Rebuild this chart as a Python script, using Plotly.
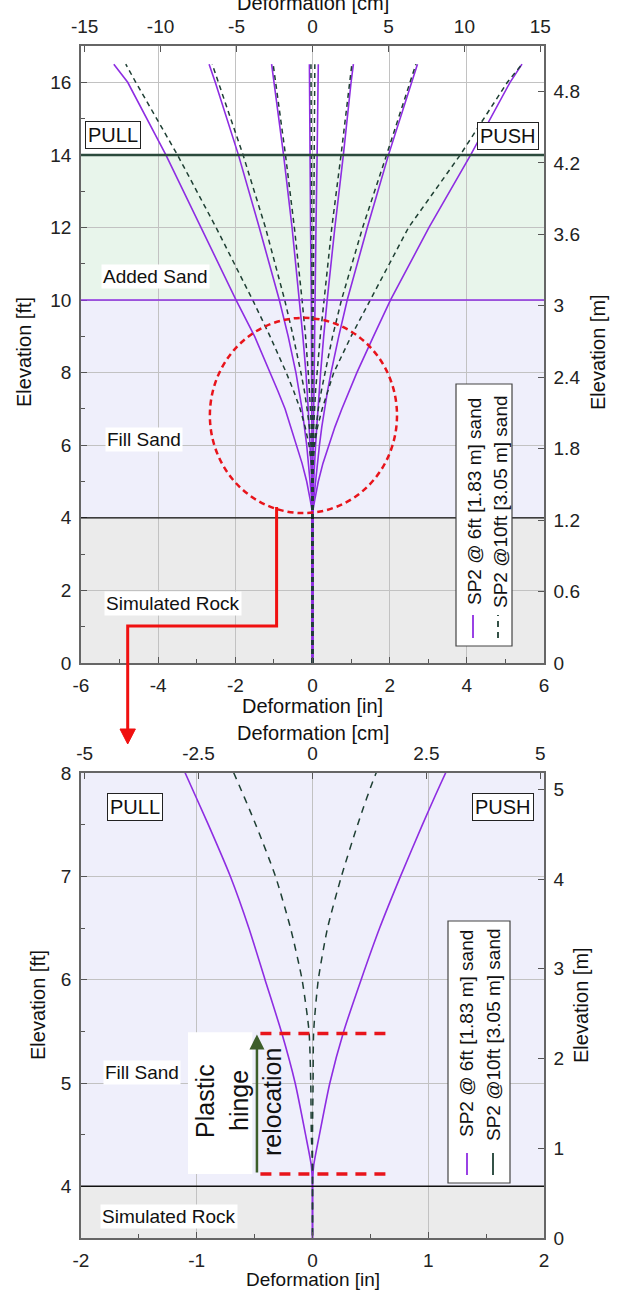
import plotly.graph_objects as go

W, H = 617, 1292

# ---------------- data (deformation in inches vs elevation in ft) ----------------
elev_ft = [0, 4.0, 4.2, 4.5, 5.0, 5.5, 6.0, 6.5, 7.0, 7.5, 8.0, 9.0, 10.0, 12.0, 14.0, 16.0, 16.5]

# SP2 @ 6ft [1.83 m] sand (solid purple), pull (-) and push (+) load steps
sp6_pull4 = [0, 0, -0.01, -0.06, -0.15, -0.27, -0.41, -0.55, -0.71, -0.90, -1.10, -1.50, -1.98, -2.88, -3.80, -4.79, -5.15]
sp6_pull3 = [0, 0, 0, -0.02, -0.06, -0.10, -0.15, -0.21, -0.27, -0.35, -0.43, -0.63, -0.86, -1.38, -1.92, -2.52, -2.68]
sp6_pull2 = [0, 0, 0, -0.01, -0.02, -0.04, -0.06, -0.08, -0.11, -0.14, -0.17, -0.25, -0.34, -0.53, -0.75, -0.99, -1.06]
sp6_pull1 = [0, 0, 0, 0, 0, -0.01, -0.01, -0.015, -0.02, -0.02, -0.02, -0.03, -0.03, -0.05, -0.06, -0.08, -0.08]
sp6_push1 = [0, 0, 0, 0, 0.01, 0.01, 0.02, 0.025, 0.03, 0.035, 0.04, 0.05, 0.07, 0.09, 0.12, 0.14, 0.15]
sp6_push2 = [0, 0, 0, 0.01, 0.03, 0.05, 0.08, 0.11, 0.14, 0.17, 0.21, 0.29, 0.38, 0.58, 0.80, 1.00, 1.06]
sp6_push3 = [0, 0, 0, 0.03, 0.08, 0.12, 0.18, 0.24, 0.31, 0.39, 0.48, 0.68, 0.90, 1.42, 1.97, 2.57, 2.72]
sp6_push4 = [0, 0, 0.01, 0.06, 0.15, 0.27, 0.42, 0.58, 0.76, 0.95, 1.15, 1.58, 2.02, 3.02, 4.10, 5.12, 5.43]

# SP2 @ 10ft [3.05 m] sand (dashed dark green)
sp10_pull4 = [0, 0, 0, -0.01, -0.015, -0.03, -0.09, -0.19, -0.32, -0.49, -0.68, -1.10, -1.55, -2.50, -3.50, -4.58, -4.84]
sp10_pull3 = [0, 0, 0, 0, 0, -0.01, -0.04, -0.08, -0.14, -0.21, -0.30, -0.50, -0.72, -1.22, -1.80, -2.45, -2.60]
sp10_pull2 = [0, 0, 0, 0, 0, 0, -0.015, -0.03, -0.05, -0.08, -0.11, -0.18, -0.27, -0.47, -0.70, -0.96, -1.02]
sp10_pull1 = [0, 0, 0, 0, 0, 0, 0, 0, 0, 0, 0, -0.01, -0.01, -0.02, -0.03, -0.04, -0.04]
sp10_push1 = [0, 0, 0, 0, 0, 0, 0, 0, 0, 0.005, 0.01, 0.01, 0.02, 0.03, 0.05, 0.06, 0.06]
sp10_push2 = [0, 0, 0, 0, 0, 0, 0.015, 0.03, 0.05, 0.08, 0.12, 0.20, 0.30, 0.50, 0.74, 0.97, 1.02]
sp10_push3 = [0, 0, 0, 0, 0, 0.01, 0.04, 0.09, 0.15, 0.23, 0.32, 0.52, 0.75, 1.30, 1.92, 2.52, 2.68]
sp10_push4 = [0, 0, 0, 0, 0.005, 0.01, 0.05, 0.13, 0.25, 0.39, 0.55, 1.00, 1.50, 2.49, 3.83, 5.05, 5.43]

series_6ft = [sp6_pull4, sp6_pull3, sp6_pull2, sp6_pull1, sp6_push1, sp6_push2, sp6_push3, sp6_push4]
series_10ft = [sp10_pull4, sp10_pull3, sp10_pull2, sp10_pull1, sp10_push1, sp10_push2, sp10_push3, sp10_push4]
legend_names = ["SP2 @ 6ft [1.83 m] sand", "SP2 @10ft [3.05 m] sand"]

# soil layers (ft)
layer_names = ["Added Sand", "Fill Sand", "Simulated Rock"]
layer_bottoms = [10, 4, 0]
layer_tops = [14, 10, 4]

# axes ticks
top_in_ticks = [-6, -4, -2, 0, 2, 4, 6]
top_in_text = ["-6", "-4", "-2", "0", "2", "4", "6"]
top_cm_ticks = [-15, -10, -5, 0, 5, 10, 15]
top_cm_text = ["-15", "-10", "-5", "0", "5", "10", "15"]
top_ft_ticks = [0, 2, 4, 6, 8, 10, 12, 14, 16]
top_m_ticks = [0, 0.6, 1.2, 1.8, 2.4, 3.0, 3.6, 4.2, 4.8]
top_m_text = ["0", "0.6", "1.2", "1.8", "2.4", "3", "3.6", "4.2", "4.8"]
bot_in_ticks = [-2, -1, 0, 1, 2]
bot_in_text = ["-2", "-1", "0", "1", "2"]
bot_cm_ticks = [-5, -2.5, 0, 2.5, 5]
bot_cm_text = ["-5", "-2.5", "0", "2.5", "5"]
bot_ft_ticks = [4, 5, 6, 7, 8]
bot_m_ticks = [0, 1, 2, 3, 4, 5]

# plastic hinge zone (ft)
hinge_low, hinge_high = 4.12, 5.48

# ---------------- styling ----------------
PURPLE = "#8E2DE2"
DKGREEN = "#1E3F33"
FONT = "Liberation Sans, Arial, sans-serif"
TICKF = dict(family=FONT, size=19, color="#222")
LAYER_FILL = ["#E8F5EB", "#EFEFFB", "#EBEBEB"]

def fx(p):
    return p / W

def fy(p):
    return 1 - p / H

XD = [fx(81), fx(544)]
TOP_YD = [fy(663), fy(46)]
BOT_YD = [fy(1238), fy(773)]

fig = go.Figure()

for s in series_6ft:
    fig.add_trace(go.Scatter(x=s, y=elev_ft, mode="lines", xaxis="x", yaxis="y",
                             line=dict(color=PURPLE, width=1.6), showlegend=False, hoverinfo="skip"))
for s in series_10ft:
    fig.add_trace(go.Scatter(x=s, y=elev_ft, mode="lines", xaxis="x", yaxis="y",
                             line=dict(color=DKGREEN, width=1.5, dash="5px,4px"), showlegend=False, hoverinfo="skip"))
for s in [sp6_pull4, sp6_push4]:
    fig.add_trace(go.Scatter(x=s, y=elev_ft, mode="lines", xaxis="x3", yaxis="y3",
                             line=dict(color=PURPLE, width=1.6, shape="spline", smoothing=0.6),
                             showlegend=False, hoverinfo="skip"))
for s in [sp10_pull4, sp10_push4]:
    fig.add_trace(go.Scatter(x=s, y=elev_ft, mode="lines", xaxis="x3", yaxis="y3",
                             line=dict(color=DKGREEN, width=1.5, dash="7px,6px", shape="spline", smoothing=0.6),
                             showlegend=False, hoverinfo="skip"))
for xa, ya in [("x2", "y"), ("x", "y2"), ("x4", "y3"), ("x3", "y4")]:
    fig.add_trace(go.Scatter(x=[0], y=[1], mode="markers", xaxis=xa, yaxis=ya,
                             marker=dict(size=1, opacity=0), showlegend=False, hoverinfo="skip"))

common = dict(showline=True, linecolor="#666", linewidth=1.5, ticks="inside", ticklen=6,
              tickcolor="#555", tickfont=TICKF, zeroline=False, automargin=False, ticklabelstandoff=4)
grid = dict(showgrid=True, gridcolor="#C2C2C2", gridwidth=1)
minor_t = dict(ticks="inside", ticklen=4, tickcolor="#555", showgrid=False)

fig.update_layout(
    width=W, height=H, margin=dict(l=0, r=0, t=0, b=0, autoexpand=False),
    paper_bgcolor="white", plot_bgcolor="white", showlegend=False,
    font=dict(family=FONT, color="#222"),
    xaxis=dict(domain=XD, anchor="y", range=[-6, 6], tickvals=top_in_ticks, ticktext=top_in_text,
               minor=dict(dtick=1, **minor_t), **grid, **common),
    xaxis2=dict(overlaying="x", side="top", anchor="y", range=[-15.24, 15.24], tickvals=top_cm_ticks,
                ticktext=top_cm_text, showgrid=False, **common),
    yaxis=dict(domain=TOP_YD, anchor="x", range=[0, 17], tickvals=top_ft_ticks,
               minor=dict(dtick=1, **minor_t), **grid, **common),
    yaxis2=dict(overlaying="y", side="right", anchor="x", range=[0, 5.1816], tickvals=top_m_ticks,
                ticktext=top_m_text, showgrid=False, **common),
    xaxis3=dict(domain=XD, anchor="y3", range=[-2, 2], tickvals=bot_in_ticks, ticktext=bot_in_text,
                minor=dict(dtick=0.5, **minor_t), **grid, **common),
    xaxis4=dict(overlaying="x3", side="top", anchor="y3", range=[-5.08, 5.08], tickvals=bot_cm_ticks,
                ticktext=bot_cm_text, showgrid=False, **common),
    yaxis3=dict(domain=BOT_YD, anchor="x3", range=[3.5, 8], tickvals=bot_ft_ticks,
                minor=dict(dtick=0.5, **minor_t), **grid, **common),
    yaxis4=dict(overlaying="y3", side="right", anchor="x3", range=[0, 5.1816], tickvals=bot_m_ticks,
                showgrid=False, **common),
)

shapes = []
for b, t, c in zip(layer_bottoms, layer_tops, LAYER_FILL):
    shapes.append(dict(type="rect", xref="x", yref="y", x0=-6, x1=6, y0=b, y1=t,
                       fillcolor=c, line=dict(width=0), layer="below"))
shapes.append(dict(type="rect", xref="x3", yref="y3", x0=-2, x1=2, y0=4, y1=8,
                   fillcolor=LAYER_FILL[1], line=dict(width=0), layer="below"))
shapes.append(dict(type="rect", xref="x3", yref="y3", x0=-2, x1=2, y0=3.5, y1=4,
                   fillcolor=LAYER_FILL[2], line=dict(width=0), layer="below"))
shapes.append(dict(type="line", xref="x", yref="y", x0=-6, x1=6, y0=layer_tops[0], y1=layer_tops[0],
                   line=dict(color="#2B4A3C", width=2.5)))
shapes.append(dict(type="line", xref="x", yref="y", x0=-6, x1=6, y0=layer_tops[1], y1=layer_tops[1],
                   line=dict(color=PURPLE, width=1.6)))
shapes.append(dict(type="line", xref="x", yref="y", x0=-6, x1=6, y0=layer_tops[2], y1=layer_tops[2],
                   line=dict(color="#111", width=1.2)))
shapes.append(dict(type="line", xref="x3", yref="y3", x0=-2, x1=2, y0=4, y1=4,
                   line=dict(color="#111", width=1.5)))
shapes.append(dict(type="circle", xref="x", yref="y", x0=-2.66, x1=2.19, y0=4.13, y1=9.51,
                   line=dict(color="#E8141B", width=2.5, dash="6px,4px")))
shapes.append(dict(type="path", xref="paper", yref="paper",
                   path=f"M {fx(276.6)} {fy(507)} L {fx(276.6)} {fy(626)} L {fx(127.7)} {fy(626)} L {fx(127.7)} {fy(731)}",
                   line=dict(color="#F01010", width=3)))
shapes.append(dict(type="path", xref="paper", yref="paper",
                   path=f"M {fx(120)} {fy(729)} L {fx(135.4)} {fy(729)} L {fx(127.7)} {fy(744)} Z",
                   fillcolor="#F01010", line=dict(color="#F01010", width=1)))
for yv in [hinge_low, hinge_high]:
    shapes.append(dict(type="line", xref="x3", yref="y3", x0=-0.45, x1=0.64, y0=yv, y1=yv,
                       line=dict(color="#E8141B", width=3.5, dash="11px,8px")))
shapes.append(dict(type="rect", xref="x3", yref="y3", x0=-1.076, x1=-0.52, y0=hinge_low, y1=hinge_high + 0.01,
                   fillcolor="white", line=dict(width=0)))

def legend_box(x0, x1, y0, y1, xs1, xs2, ys0, ys1, dashed_second):
    shapes.append(dict(type="rect", xref="paper", yref="paper", x0=fx(x0), x1=fx(x1), y0=fy(y1), y1=fy(y0),
                       fillcolor="white", line=dict(color="#444", width=1.2)))
    shapes.append(dict(type="line", xref="paper", yref="paper", x0=fx(xs1), x1=fx(xs1), y0=fy(ys1), y1=fy(ys0),
                       line=dict(color=PURPLE, width=1.8)))
    shapes.append(dict(type="line", xref="paper", yref="paper", x0=fx(xs2), x1=fx(xs2), y0=fy(ys1), y1=fy(ys0),
                       line=dict(color=DKGREEN, width=1.8, dash="6px,5px" if dashed_second else "solid")))

legend_box(456, 512, 384, 646, 473, 498, 615, 638, True)
legend_box(448, 510, 921, 1183, 467, 493, 1153, 1175, False)

fig.update_layout(shapes=shapes)

ann = []
def txt(text, x, y, xref="paper", yref="paper", size=20, angle=0, **kw):
    ann.append(dict(text=text, x=x, y=y, xref=xref, yref=yref, showarrow=False, textangle=angle,
                    xanchor="center", yanchor="middle", font=dict(family=FONT, size=size, color="#111"), **kw))

txt("Deformation [cm]", fx(312.5), fy(3))
txt("Deformation [in]", fx(312.5), fy(706))
txt("Deformation [cm]", fx(312.5), fy(733))
txt("Deformation [in]", fx(312.5), fy(1279), size=19)
txt("Elevation [ft]", fx(24), fy(352), angle=-90)
txt("Elevation [m]", fx(598), fy(352), angle=-90)
txt("Elevation [ft]", fx(38), fy(1005), angle=-90)
txt("Elevation [m]", fx(581), fy(1005), angle=-90)

box = dict(bordercolor="#222", borderwidth=1, bgcolor="white", borderpad=2)
txt("PULL", -5.16, 14.55, "x", "y", **box)
txt("PUSH", 5.07, 14.52, "x", "y", **box)
txt("PULL", -1.53, 7.67, "x3", "y3", **box)
txt("PUSH", 1.65, 7.67, "x3", "y3", **box)

wb = dict(bgcolor="white", borderpad=1)
txt(layer_names[0], -4.08, 10.64, "x", "y", size=19, **wb)
txt(layer_names[1], -4.37, 6.17, "x", "y", size=19, **wb)
txt(layer_names[2], -3.62, 1.65, "x", "y", size=19, **wb)
txt(layer_names[1], -1.47, 5.10, "x3", "y3", size=19, **wb)
txt(layer_names[2], -1.24, 3.71, "x3", "y3", size=19, **wb)

txt(legend_names[0], fx(474), fy(502), size=19, angle=-90)
txt(legend_names[1], fx(500), fy(502), size=19, angle=-90)
txt(legend_names[0], fx(466), fy(1034), size=19, angle=-90)
txt(legend_names[1], fx(493), fy(1034), size=19, angle=-90)

txt("Plastic", fx(205), fy(1101), size=25, angle=-90)
txt("hinge", fx(239), fy(1101), size=25, angle=-90)
txt("relocation", fx(272), fy(1102), size=25, angle=-90)
ann.append(dict(x=-0.48, y=hinge_high - 0.01, ax=-0.48, ay=hinge_low, xref="x3", yref="y3",
                axref="x3", ayref="y3", showarrow=True, arrowhead=2, arrowsize=1.2,
                arrowwidth=2.5, arrowcolor="#3D5E2A", text=""))

fig.update_layout(annotations=ann)

fig.write_html("out.html", config={"displayModeBar": False},
               post_script="document.body.style.margin='0px';document.body.style.overflow='hidden';")
